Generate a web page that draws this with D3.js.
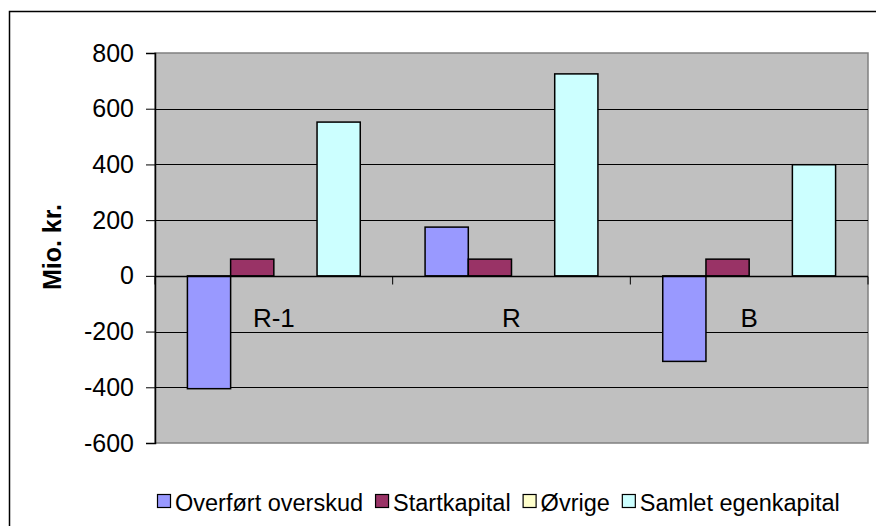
<!DOCTYPE html>
<html>
<head>
<meta charset="utf-8">
<script src="https://cdnjs.cloudflare.com/ajax/libs/d3/7.8.5/d3.min.js"></script>
<style>
  body { margin: 0; background: #fff; }
  text { font-family: "Liberation Sans", Arial, sans-serif; }
</style>
</head>
<body>
<script>
// data
var categories = ["R-1", "R", "B"];
var seriesNames = ["Overført overskud", "Startkapital", "Øvrige", "Samlet egenkapital"];
var overfortOverskud = [-405, 175, -307];
var startkapital = [60, 60, 60];
var ovrige = [0, 0, 0];
var samletEgenkapital = [552, 725, 399];
var yTicks = [-600, -400, -200, 0, 200, 400, 600, 800];
var colors = ["#9999FF", "#993366", "#FFFFCC", "#CCFFFF"];

var seriesValues = [overfortOverskud, startkapital, ovrige, samletEgenkapital];

var width = 876, height = 526;
var plot = { left: 155, top: 53, right: 868, bottom: 443 };

var svg = d3.select("body").append("svg")
    .attr("width", width)
    .attr("height", height);

// outer chart border (runs off the right and bottom)
svg.append("rect")
    .attr("x", 9.5).attr("y", 11.5)
    .attr("width", 900).attr("height", 600)
    .attr("fill", "none")
    .attr("stroke", "#000")
    .attr("stroke-width", 1.5);

var y = d3.scaleLinear()
    .domain([-600, 800])
    .range([plot.bottom, plot.top]);

var x0 = d3.scaleBand()
    .domain(categories)
    .range([plot.left, plot.right])
    .padding(0);

var x1 = d3.scaleBand()
    .domain(seriesNames)
    .range([0, x0.bandwidth()])
    .paddingInner(0)
    .paddingOuter(0.75);

// plot area
svg.append("rect")
    .attr("x", plot.left).attr("y", plot.top)
    .attr("width", plot.right - plot.left)
    .attr("height", plot.bottom - plot.top)
    .attr("fill", "#C0C0C0")
    .attr("stroke", "#808080")
    .attr("stroke-width", 1.5);

// gridlines
svg.append("g")
    .selectAll("line")
    .data(yTicks.filter(function (d) { return d !== -600 && d !== 800; }))
    .enter().append("line")
    .attr("x1", plot.left).attr("x2", plot.right)
    .attr("y1", function (d) { return Math.round(y(d)) + 0.5; })
    .attr("y2", function (d) { return Math.round(y(d)) + 0.5; })
    .attr("stroke", "#000")
    .attr("stroke-width", 1.2);

// y axis
var yAxis = d3.axisLeft(y)
    .tickValues(yTicks)
    .tickSize(9)
    .tickPadding(12)
    .tickFormat(function (d) { return String(d); });

var gy = svg.append("g")
    .attr("transform", "translate(" + plot.left + ",0)")
    .call(yAxis);
gy.select(".domain").attr("stroke", "#000").attr("stroke-width", 1.5);
gy.selectAll(".tick line").attr("stroke", "#000");
gy.selectAll(".tick text")
    .attr("font-size", 25)
    .attr("fill", "#000")
    .style("font-family", "Liberation Sans, Arial, sans-serif");

// y title
svg.append("text")
    .attr("transform", "translate(61,247) rotate(-90)")
    .attr("text-anchor", "middle")
    .attr("font-size", 25)
    .attr("font-weight", "bold")
    .text("Mio. kr.");

// bars
var groups = svg.append("g")
    .selectAll("g")
    .data(categories)
    .enter().append("g")
    .attr("transform", function (d) { return "translate(" + x0(d) + ",0)"; });

groups.selectAll("rect")
    .data(function (c, i) {
        return seriesNames.map(function (s, j) {
            return { series: s, value: seriesValues[j][i], color: colors[j] };
        });
    })
    .enter().append("rect")
    .attr("x", function (d) { return x1(d.series); })
    .attr("width", x1.bandwidth())
    .attr("y", function (d) { return y(Math.max(0, d.value)); })
    .attr("height", function (d) { return Math.abs(y(d.value) - y(0)); })
    .attr("fill", function (d) { return d.color; })
    .attr("stroke", function (d) { return d.value === 0 ? "none" : "#000"; })
    .attr("stroke-width", 1.5);

// category axis at zero
var gx = svg.append("g")
    .attr("transform", "translate(0," + (Math.round(y(0)) + 0.5) + ")");
gx.append("line")
    .attr("x1", plot.left).attr("x2", plot.right)
    .attr("stroke", "#000").attr("stroke-width", 1.5);
gx.selectAll(".sep")
    .data(categories.map(function (c) { return x0(c); }).concat([plot.right]))
    .enter().append("line")
    .attr("x1", function (d) { return d; })
    .attr("x2", function (d) { return d; })
    .attr("y1", 0).attr("y2", 8)
    .attr("stroke", "#000");
gx.selectAll(".cat")
    .data(categories)
    .enter().append("text")
    .attr("x", function (d) { return x0(d) + x0.bandwidth() / 2; })
    .attr("y", 50)
    .attr("text-anchor", "middle")
    .attr("font-size", 26)
    .text(function (d) { return d; });

// legend
var legend = svg.append("g").attr("transform", "translate(0,502)");
var lx = 157;
seriesNames.forEach(function (s, i) {
    var item = legend.append("g").attr("transform", "translate(" + lx + ",0)");
    item.append("rect")
        .attr("x", 0.5).attr("y", -7.5)
        .attr("width", 13).attr("height", 13)
        .attr("fill", colors[i])
        .attr("stroke", "#000")
        .attr("stroke-width", 1.2);
    var t = item.append("text")
        .attr("x", 18)
        .attr("y", 8.5)
        .attr("font-size", 23.5)
        .text(s);
    lx += 18 + t.node().getComputedTextLength() + 12;
});
</script>
</body>
</html>
